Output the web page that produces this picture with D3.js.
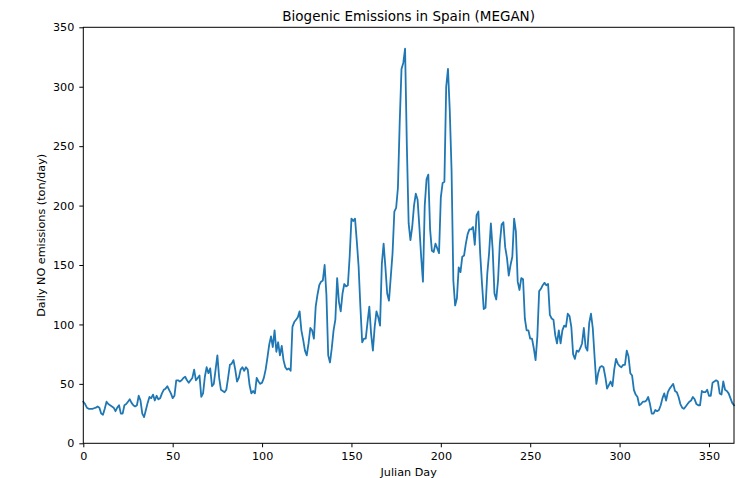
<!DOCTYPE html>
<html>
<head>
<meta charset="utf-8">
<script src="https://cdn.jsdelivr.net/npm/d3@7"></script>
<style>
  body { margin: 0; background: #fff; }
  svg text { font-family: "DejaVu Sans", sans-serif; }
</style>
</head>
<body>
<div id="chart"></div>
<script>
// daily NO emissions (ton/day), day 0..364
const emissions = [
  35, 33, 30, 29, 29, 29, 29.5, 30, 31, 30, 25, 24, 29, 35, 33, 32, 31, 30, 27, 30,
  32, 25, 25, 32, 33, 35, 37, 34, 32, 31, 32, 40, 36, 25, 22, 28, 34, 39, 38, 41,
  36, 40, 37, 38, 42, 45, 46, 48, 45, 42, 38, 40, 53, 53, 52, 53, 55, 56, 53, 51,
  53, 55, 62, 53, 55, 57, 39, 42, 56, 64, 59, 63, 48, 50, 62, 74, 55, 45, 44, 43,
  45, 55, 66, 67, 70, 62, 52, 55, 62, 64, 61, 64, 62, 49, 42, 44, 42, 55, 52, 50,
  51, 55, 62, 72, 83, 90, 81, 95, 77, 85, 74, 82, 70, 64, 62, 63, 61, 98, 102, 104,
  106, 111, 95, 87, 78, 74, 84, 97, 95, 88, 115, 125, 133, 136, 137, 150, 125, 74, 68, 80,
  95, 104, 139, 119, 111, 126, 134, 132, 133, 157, 189, 187, 189, 170, 149, 115, 85, 88, 88, 102,
  115, 92, 78, 98, 111, 106, 99, 151, 168, 148, 126, 120, 140, 160, 195, 198, 215, 270, 315, 320,
  332, 250, 185, 171, 182, 200, 210, 205, 182, 157, 136, 200, 222, 226, 180, 162, 161, 168, 164, 160,
  207, 219, 220, 300, 315, 280, 230, 137, 116, 122, 148, 144, 157, 158, 168, 176, 180, 180, 182, 167,
  192, 195, 160, 135, 113, 114, 143, 160, 185, 163, 126, 121, 137, 168, 184, 186, 165, 156, 141, 150,
  157, 189, 178, 136, 129, 139, 138, 105, 95, 95, 88, 88, 80, 70, 90, 128, 130, 133, 135, 133,
  134, 108, 105, 104, 91, 84, 95, 84, 95, 99, 98, 109, 107, 98, 75, 71, 78, 77, 80, 84,
  97, 81, 78, 101, 109, 97, 73, 50, 59, 64, 65, 64, 56, 46, 49, 52, 48, 62, 71, 67,
  65, 64, 66, 66, 78, 73, 59, 57, 45, 41, 39, 32, 33, 35, 35, 36, 39, 33, 25, 25,
  28, 27, 28, 32, 38, 42, 36, 43, 46, 48, 50, 44, 43, 39, 33, 30, 29, 31, 33, 35,
  36, 39, 37, 33, 32, 32, 44, 43, 43, 45, 40, 40, 51, 52, 53, 52, 42, 41, 52, 45,
  44, 42, 38, 34, 32
];
const days = d3.range(emissions.length);
const xTicks = [0, 50, 100, 150, 200, 250, 300, 350];
const yTicks = [0, 50, 100, 150, 200, 250, 300, 350];
const title = 'Biogenic Emissions in Spain (MEGAN)';
const xTitle = 'Julian Day';
const yTitle = 'Daily NO emissions (ton/day)';

const width = 746;
const height = 478;
const margin = { top: 27.3, left: 83.3, right: 12, bottom: 34.7 };
const plotRight = 734;
const fontSize = '11.2px';

const svg = d3.select('#chart')
  .append('svg')
  .attr('width', width)
  .attr('height', height);

const x = d3.scaleLinear()
  .domain([0, 364])
  .range([margin.left, plotRight]);

const y = d3.scaleLinear()
  .domain([0, 350])
  .range([height - margin.bottom, margin.top]);

// the line
const line = d3.line()
  .x((d, i) => x(days[i]))
  .y(d => y(d));

svg.append('path')
  .datum(emissions)
  .attr('fill', 'none')
  .attr('stroke', '#1f77b4')
  .attr('stroke-width', 1.8)
  .attr('stroke-linejoin', 'round')
  .attr('stroke-linecap', 'square')
  .attr('d', line);

// frame
svg.append('rect')
  .attr('x', margin.left)
  .attr('y', margin.top)
  .attr('width', plotRight - margin.left)
  .attr('height', height - margin.bottom - margin.top)
  .attr('fill', 'none')
  .attr('stroke', '#000')
  .attr('stroke-width', 1);

// axes
const xAxis = svg.append('g')
  .attr('transform', `translate(0,${height - margin.bottom})`)
  .call(d3.axisBottom(x).tickValues(xTicks).tickSize(4).tickPadding(4.4).tickFormat(d3.format('d')));

const yAxis = svg.append('g')
  .attr('transform', `translate(${margin.left},0)`)
  .call(d3.axisLeft(y).tickValues(yTicks).tickSize(4).tickPadding(5).tickFormat(d3.format('d')));

[xAxis, yAxis].forEach(a => {
  a.select('.domain').remove();
  a.selectAll('.tick line').attr('stroke', '#000').attr('stroke-width', 1);
  a.selectAll('.tick text')
    .attr('fill', '#000')
    .style('font-size', fontSize)
    .style('font-family', '"DejaVu Sans", sans-serif');
});

// titles
svg.append('text')
  .attr('x', (margin.left + plotRight) / 2)
  .attr('y', 21)
  .attr('text-anchor', 'middle')
  .style('font-size', '13.5px')
  .text(title);

svg.append('text')
  .attr('x', (margin.left + plotRight) / 2)
  .attr('y', 475.7)
  .attr('text-anchor', 'middle')
  .style('font-size', fontSize)
  .text(xTitle);

svg.append('text')
  .attr('transform', `translate(45,${(margin.top + height - margin.bottom) / 2}) rotate(-90)`)
  .attr('text-anchor', 'middle')
  .style('font-size', fontSize)
  .text(yTitle);
</script>
</body>
</html>
